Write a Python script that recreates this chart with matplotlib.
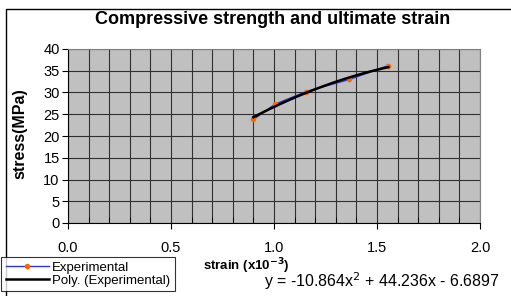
import matplotlib
matplotlib.use("Agg")
import matplotlib.pyplot as plt
from matplotlib.patches import Rectangle
import numpy as np

plt.rcParams['font.family'] = ['Liberation Sans', 'DejaVu Sans']

strain = [0.90, 1.005, 1.155, 1.366, 1.555]
stress = [23.8, 27.3, 30.2, 33.0, 36.2]
coef = [-10.864, 44.236, -6.6897]

W, H = 511, 296
fig = plt.figure(figsize=(W/100, H/100), dpi=100)

# outer chart frame
fig.patches.append(Rectangle((6/W, -0.1), 1.2, 1 - 9/H + 0.1, transform=fig.transFigure,
                             fill=False, edgecolor='black', linewidth=1.0))

ax = fig.add_axes([68/W, (296-223)/H, 412/W, 174/H])
ax.set_facecolor('#c0c0c0')

ax.plot(strain, stress, color='#3333cc', linewidth=1, marker='o', markersize=3,
        markerfacecolor='#ff6600', markeredgecolor='#ff6600', label='Experimental', zorder=3)
xs = np.linspace(min(strain), max(strain), 100)
ax.plot(xs, np.polyval(coef, xs), color='black', linewidth=1.8, label='Poly. (Experimental)', zorder=4)

ax.set_xlim(0, 2.0)
ax.set_ylim(0, 40)
ax.set_xticks(np.arange(0, 2.01, 0.5))
ax.set_xticks(np.arange(0, 2.01, 0.1), minor=True)
ax.set_xticklabels(['0.0', '0.5', '1.0', '1.5', '2.0'])
ax.set_yticks(range(0, 41, 5))
ax.grid(True, which='both', color='#303030', linewidth=0.8)
ax.set_axisbelow(True)
ax.tick_params(axis='both', which='major', labelsize=10.5, length=4, direction='out', pad=2)
ax.tick_params(axis='x', which='major', pad=9)
ax.tick_params(axis='x', which='minor', length=4, direction='in')
for s in ax.spines.values():
    s.set_color('#808080')
ax.spines['left'].set_color('black')
ax.spines['bottom'].set_color('black')

fig.text(273/W, 1 - 20/H, 'Compressive strength and ultimate strain', ha='center', va='center',
         fontsize=13, fontweight='bold')
fig.text(20/W, (296-134)/H, 'stress(MPa)', rotation=90, ha='center', va='center',
         fontsize=11.5, fontweight='bold')
fig.text(246/W, 1 - 266/H, 'strain (x10$^{\\mathbf{-3}}$)', ha='center', va='center',
         fontsize=9.5, fontweight='bold')
fig.text(500/W, 1 - 281/H, 'y = -10.864x$^{2}$ + 44.236x - 6.6897', ha='right', va='center',
         fontsize=11.5)

leg = fig.legend(loc='upper left', bbox_to_anchor=(1/W, 1 - 257/H), fontsize=9.5,
                 frameon=True, fancybox=False, edgecolor='black', borderpad=0.35,
                 handlelength=3.3, handletextpad=0.2, labelspacing=0.05, borderaxespad=0)
leg.get_frame().set_linewidth(0.8)

fig.savefig('out.png', dpi=100)
